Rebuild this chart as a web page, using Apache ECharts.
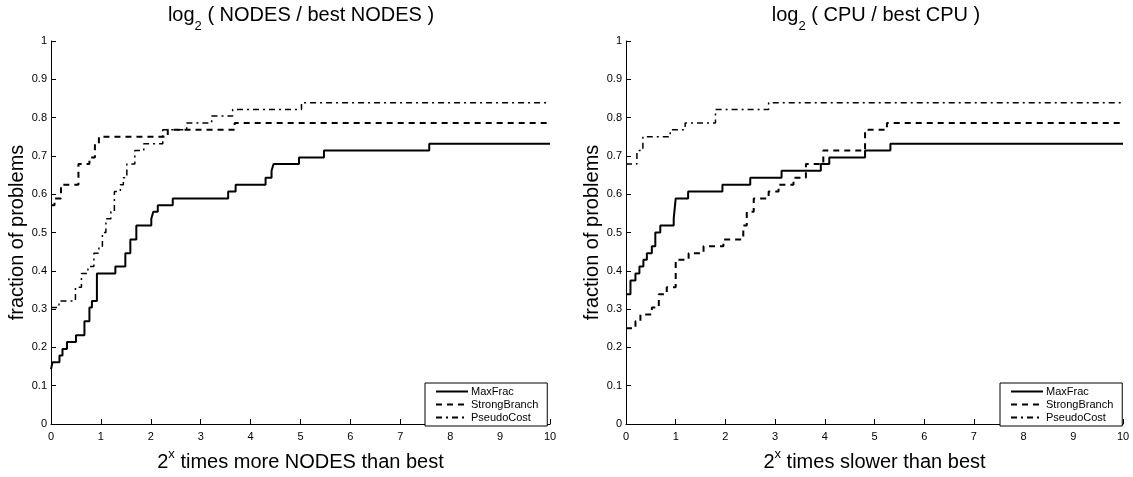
<!DOCTYPE html>
<html>
<head>
<meta charset="utf-8">
<script src="https://cdn.jsdelivr.net/npm/echarts@6/dist/echarts.min.js"></script>
<style>
  html, body { margin: 0; padding: 0; background: #fff; }
  #chart { width: 1133px; height: 477px; }
</style>
</head>
<body>
<div id="chart"></div>
<script>
// performance profiles (56 problems)
const xTicks = [0, 1, 2, 3, 4, 5, 6, 7, 8, 9, 10]
const yTicks = [0, 0.1, 0.2, 0.3, 0.4, 0.5, 0.6, 0.7, 0.8, 0.9, 1]
const seriesNames = ['MaxFrac', 'StrongBranch', 'PseudoCost']

// left: NODES
const nodesMaxFracX = [0, 0.03, 0.17, 0.23, 0.32, 0.5, 0.67, 0.77, 0.82, 0.92, 1.29, 1.49, 1.59, 1.71, 2.01, 2.05, 2.14, 2.44, 3.55, 3.7, 4.3, 4.42, 4.46, 4.97, 5.47, 7.58, 10]
const nodesMaxFracY = [0.143, 0.161, 0.179, 0.196, 0.214, 0.232, 0.268, 0.304, 0.321, 0.393, 0.411, 0.446, 0.482, 0.518, 0.536, 0.554, 0.571, 0.589, 0.607, 0.625, 0.643, 0.661, 0.679, 0.696, 0.714, 0.732, 0.732]
const nodesStrongX = [0, 0.07, 0.2, 0.55, 0.77, 0.88, 0.96, 2.34, 3.68, 10]
const nodesStrongY = [0.571, 0.589, 0.625, 0.679, 0.696, 0.732, 0.75, 0.768, 0.786, 0.786]
const nodesPseudoX = [0, 0.16, 0.49, 0.61, 0.74, 0.86, 0.96, 1.03, 1.1, 1.2, 1.27, 1.39, 1.45, 1.52, 1.68, 1.86, 2.24, 2.72, 3.22, 3.64, 5.02, 10]
const nodesPseudoY = [0.304, 0.321, 0.357, 0.393, 0.411, 0.446, 0.464, 0.5, 0.536, 0.554, 0.607, 0.625, 0.643, 0.679, 0.714, 0.732, 0.768, 0.786, 0.804, 0.821, 0.839, 0.839]

// right: CPU
const cpuMaxFracX = [0, 0.09, 0.19, 0.27, 0.35, 0.42, 0.52, 0.59, 0.69, 0.96, 1.0, 1.25, 1.94, 2.5, 3.13, 3.92, 4.09, 4.81, 5.32, 10]
const cpuMaxFracY = [0.339, 0.375, 0.393, 0.411, 0.429, 0.446, 0.464, 0.5, 0.518, 0.536, 0.589, 0.607, 0.625, 0.643, 0.661, 0.679, 0.696, 0.714, 0.732, 0.732]
const cpuStrongX = [0, 0.19, 0.29, 0.52, 0.66, 0.82, 1.0, 1.26, 1.56, 1.96, 2.36, 2.43, 2.57, 2.87, 3.07, 3.37, 3.62, 3.97, 4.81, 5.25, 10]
const cpuStrongY = [0.25, 0.268, 0.286, 0.304, 0.339, 0.357, 0.429, 0.446, 0.464, 0.482, 0.518, 0.554, 0.589, 0.607, 0.625, 0.643, 0.679, 0.714, 0.768, 0.786, 0.786]
const cpuPseudoX = [0, 0.22, 0.34, 0.89, 1.19, 1.8, 2.87, 10]
const cpuPseudoY = [0.679, 0.714, 0.75, 0.768, 0.786, 0.821, 0.839, 0.839]

const font = 'Liberation Sans, Arial, Helvetica, sans-serif'
const lineTypes = ['solid', [6, 5], [6, 4, 2, 4]]
const lineWidths = [2, 2, 1.5]

const chart = echarts.init(document.getElementById('chart'))

function pairs(xs, ys) {
  return xs.map((x, i) => [x, ys[i]])
}

function stepSeries(idx, xs, ys, axis) {
  return {
    name: seriesNames[idx],
    type: 'line',
    step: 'end',
    xAxisIndex: axis,
    yAxisIndex: axis,
    symbol: 'none',
    data: pairs(xs, ys),
    lineStyle: { color: '#000', width: lineWidths[idx], type: lineTypes[idx] },
    itemStyle: { color: '#000' }
  }
}

function makeX(idx, label) {
  return {
    gridIndex: idx,
    type: 'value',
    min: xTicks[0],
    max: xTicks[xTicks.length - 1],
    interval: 1,
    name: label,
    nameLocation: 'middle',
    nameGap: 24,
    nameTextStyle: {
      fontFamily: font, fontSize: 20, color: '#000',
      rich: {
        b: { fontFamily: font, fontSize: 20, color: '#000', lineHeight: 24, verticalAlign: 'bottom' },
        sup: { fontFamily: font, fontSize: 13, color: '#000', lineHeight: 24, verticalAlign: 'top' }
      }
    },
    axisLine: { onZero: false, lineStyle: { color: '#000', width: 1 } },
    axisTick: { inside: true, length: 5, lineStyle: { color: '#000' } },
    axisLabel: { fontFamily: font, fontSize: 11, color: '#000', margin: 7 },
    splitLine: { show: false }
  }
}

function makeY(idx) {
  return {
    gridIndex: idx,
    type: 'value',
    min: yTicks[0],
    max: yTicks[yTicks.length - 1],
    interval: 0.1,
    name: 'fraction of problems',
    nameLocation: 'middle',
    nameGap: 23,
    nameTextStyle: { fontFamily: font, fontSize: 20, color: '#000' },
    axisLine: { show: true, onZero: false, lineStyle: { color: '#000', width: 1 } },
    axisTick: { show: true, inside: true, length: 5, lineStyle: { color: '#000' } },
    axisLabel: { fontFamily: font, fontSize: 11, color: '#000', margin: 4 },
    splitLine: { show: false }
  }
}

function makeLegend(left) {
  return {
    orient: 'vertical',
    left: left,
    top: 383,
    data: seriesNames,
    itemWidth: 32,
    itemHeight: 12,
    itemGap: 2,
    padding: [3, 9, 3, 10],
    borderColor: '#000',
    borderWidth: 1,
    backgroundColor: '#fff',
    selectedMode: false,
    itemStyle: { opacity: 0 },
    textStyle: { fontFamily: font, fontSize: 11, color: '#000', padding: [0, 0, 0, -2] }
  }
}

const titleRich = {
  t: { fontFamily: font, fontSize: 20, fontWeight: 'normal', color: '#000', lineHeight: 28, verticalAlign: 'top' },
  sub: { fontFamily: font, fontSize: 13, fontWeight: 'normal', color: '#000', lineHeight: 12, verticalAlign: 'bottom' }
}

chart.setOption({
  animation: false,
  backgroundColor: '#fff',
  title: [
    {
      text: '{t|log}{sub|2}{t| ( NODES / best NODES )}',
      left: 296, top: 0, textAlign: 'center',
      textStyle: { fontWeight: 'normal', rich: titleRich }
    },
    {
      text: '{t|log}{sub|2}{t| ( CPU / best CPU )}',
      left: 871, top: 0, textAlign: 'center',
      textStyle: { fontWeight: 'normal', rich: titleRich }
    }
  ],
  legend: [makeLegend(425), makeLegend(1000)],
  grid: [
    { left: 51, right: 583, top: 41, bottom: 45 },
    { left: 626, right: 10, top: 41, bottom: 45 }
  ],
  xAxis: [
    makeX(0, '{b|2}{sup|x}{b| times more NODES than best}'),
    makeX(1, '{b|2}{sup|x}{b| times slower than best}')
  ],
  yAxis: [makeY(0), makeY(1)],
  series: [
    stepSeries(0, nodesMaxFracX, nodesMaxFracY, 0),
    stepSeries(1, nodesStrongX, nodesStrongY, 0),
    stepSeries(2, nodesPseudoX, nodesPseudoY, 0),
    stepSeries(0, cpuMaxFracX, cpuMaxFracY, 1),
    stepSeries(1, cpuStrongX, cpuStrongY, 1),
    stepSeries(2, cpuPseudoX, cpuPseudoY, 1)
  ]
})
</script>
</body>
</html>
